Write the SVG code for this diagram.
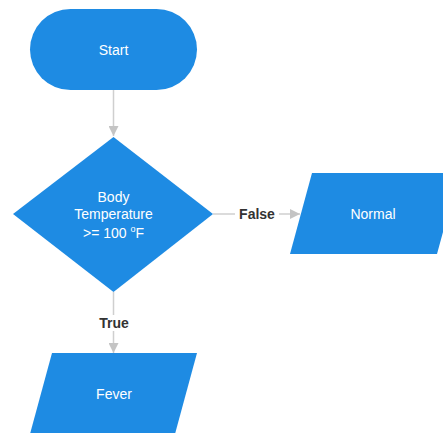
<svg xmlns="http://www.w3.org/2000/svg" width="443" height="433" viewBox="0 0 443 433">
  <defs>
    <marker id="arrow" viewBox="0 0 10 10" refX="10" refY="5" markerWidth="10" markerHeight="10" markerUnits="userSpaceOnUse" orient="auto">
      <path d="M0,0 L10,5 L0,10 Z" fill="#c4c4c4"/>
    </marker>
  </defs>
  <style>
    .shape { fill: #1e8be3; }
    .label { font-family: "Liberation Sans", Arial, sans-serif; font-size: 14px; fill: #ffffff; text-anchor: middle; dominant-baseline: central; }
    .edge { stroke: #cfcfcf; stroke-width: 1.5; fill: none; }
    .edge-label { font-family: "Liberation Sans", Arial, sans-serif; font-size: 14px; font-weight: bold; fill: #333333; text-anchor: middle; dominant-baseline: central; }
  </style>
  <rect width="443" height="433" fill="#ffffff"/>

  <g id="connectors">
    <line class="edge" x1="113.5" y1="90" x2="113.5" y2="136" marker-end="url(#arrow)"/>
    <line class="edge" x1="213" y1="214" x2="300" y2="214" marker-end="url(#arrow)"/>
    <line class="edge" x1="113.5" y1="292" x2="113.5" y2="353" marker-end="url(#arrow)"/>
    <rect x="235" y="206" width="44" height="16" fill="#ffffff"/>
    <text class="edge-label" x="257" y="214">False</text>
    <rect x="95" y="315" width="38" height="16" fill="#ffffff"/>
    <text class="edge-label" x="114" y="323">True</text>
  </g>

  <g id="start">
    <rect class="shape" x="30" y="9" width="167" height="81" rx="40.5" ry="40.5"/>
    <text class="label" x="113.5" y="49.5">Start</text>
  </g>

  <g id="decision">
    <polygon class="shape" points="113.5,137 213,214 113.5,292 13,214"/>
    <text class="label" x="113.5" y="197">Body</text>
    <text class="label" x="113.5" y="214">Temperature</text>
    <text class="label" x="113.5" y="233">&gt;= 100 <tspan font-size="9" dy="-4">o</tspan><tspan dy="4">F</tspan></text>
  </g>

  <g id="normal">
    <polygon class="shape" points="312,173 459,173 437,254 290,254"/>
    <text class="label" x="373" y="214">Normal</text>
  </g>

  <g id="fever">
    <polygon class="shape" points="52,353 197,353 175,434 30,434"/>
    <text class="label" x="114" y="394">Fever</text>
  </g>
</svg>
